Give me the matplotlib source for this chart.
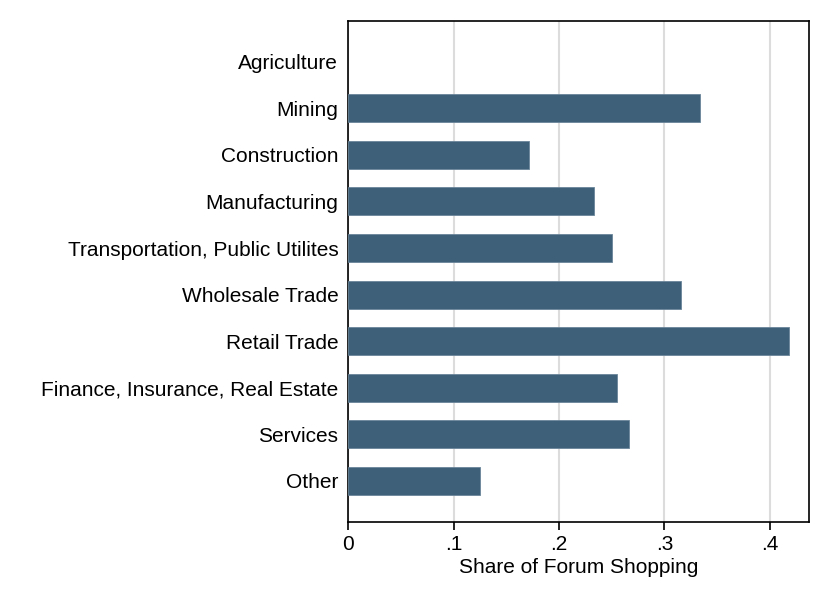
import matplotlib
matplotlib.use("Agg")
import matplotlib.pyplot as plt

categories = ["Agriculture", "Mining", "Construction", "Manufacturing",
              "Transportation, Public Utilites", "Wholesale Trade", "Retail Trade",
              "Finance, Insurance, Real Estate", "Services", "Other"]
shares = [0.0, 0.3336, 0.1716, 0.2329, 0.2502, 0.316, 0.4177, 0.2553, 0.2664, 0.1254]
xticks = [0, 0.1, 0.2, 0.3, 0.4]
xticklabels = ["0", ".1", ".2", ".3", ".4"]

plt.rcParams['font.family'] = ['Liberation Sans', 'DejaVu Sans']

fig = plt.figure(figsize=(8.3, 6.04), dpi=100)
ax = fig.add_axes([0.4193, 0.1363, 0.5554, 0.8294])

ypos = list(range(len(categories)))
lw = [0.6 if v > 0 else 0 for v in shares]
ax.barh(ypos, shares, height=0.6, color='#3e6079', edgecolor='#6a8599', linewidth=lw, zorder=3)
ax.set_ylim(len(categories) - 1 + 0.875, -0.88)
ax.set_xlim(0, 0.437)
ax.set_yticks(ypos)
ax.set_yticklabels(categories, fontsize=15)
ax.set_xticks(xticks)
ax.set_xticklabels(xticklabels, fontsize=15)
ax.tick_params(axis='y', length=0, pad=7)
ax.tick_params(axis='x', length=5.5, width=1.2, pad=4, direction='out')
ax.xaxis.grid(True, color='#dcdcdc', linewidth=1.5, zorder=0)
ax.set_axisbelow(True)
for s in ax.spines.values():
    s.set_linewidth(1.2)
    s.set_color('black')
ax.set_xlabel("Share of Forum Shopping", fontsize=15, labelpad=3)

fig.savefig("out.png", dpi=100)
